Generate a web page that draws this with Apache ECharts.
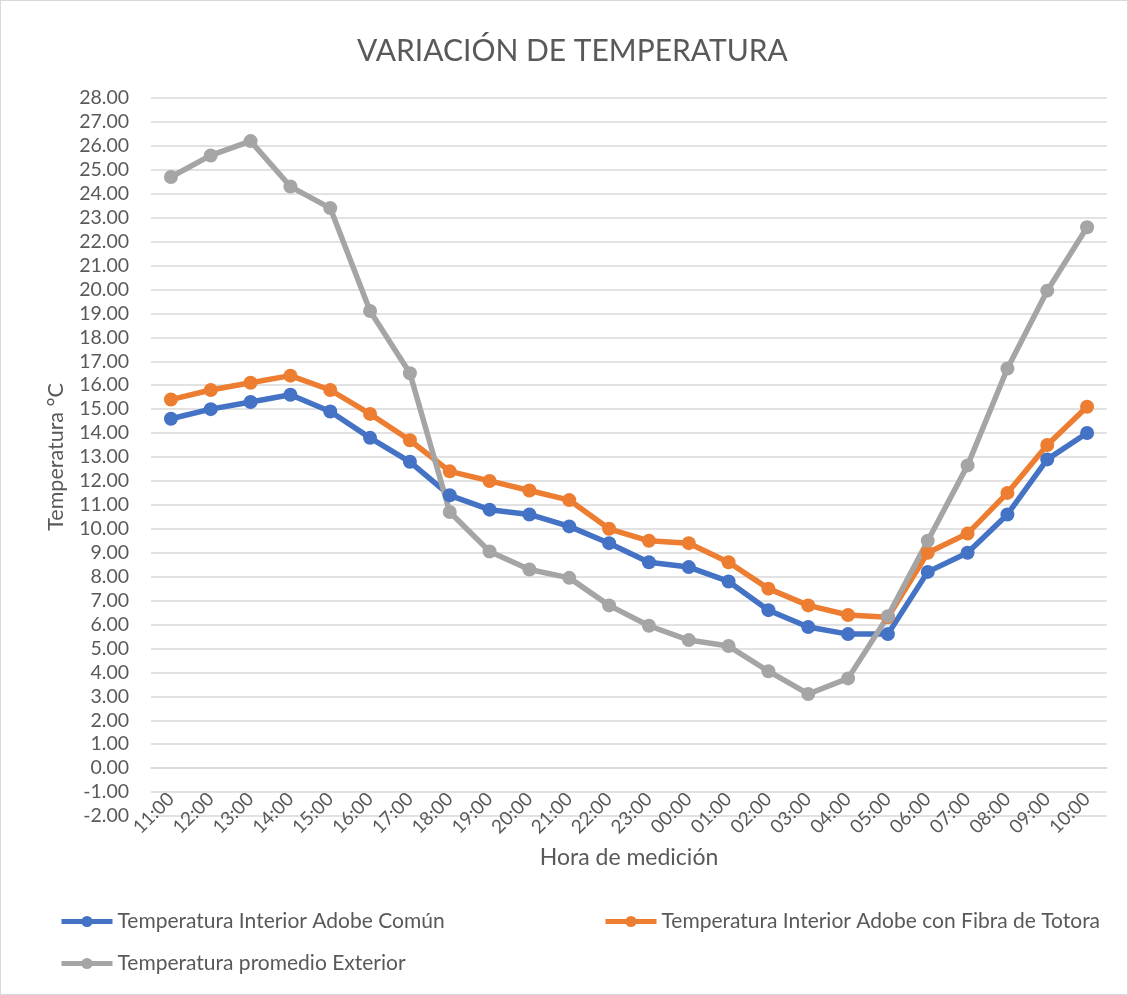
<!DOCTYPE html>
<html><head><meta charset="utf-8">
<script src="https://cdn.jsdelivr.net/npm/echarts@6/dist/echarts.min.js"></script>
<style>html,body{margin:0;padding:0;background:#fff}#c{width:1128px;height:995px;box-sizing:border-box;border:1px solid #d9d9d9}</style>
</head><body><div id="c"></div>
<script>
const categories = ['11:00','12:00','13:00','14:00','15:00','16:00','17:00','18:00','19:00','20:00','21:00','22:00','23:00','00:00','01:00','02:00','03:00','04:00','05:00','06:00','07:00','08:00','09:00','10:00'];
const adobeComun = [14.6,15.0,15.3,15.6,14.9,13.8,12.8,11.4,10.8,10.6,10.1,9.4,8.6,8.4,7.8,6.6,5.9,5.6,5.6,8.2,9.0,10.6,12.9,14.0];
const adobeTotora = [15.4,15.8,16.1,16.4,15.8,14.8,13.7,12.4,12.0,11.6,11.2,10.0,9.5,9.4,8.6,7.5,6.8,6.4,6.3,9.0,9.8,11.5,13.5,15.1];
const exterior = [24.7,25.6,26.2,24.3,23.4,19.1,16.5,10.7,9.05,8.3,7.95,6.8,5.95,5.35,5.1,4.05,3.1,3.75,6.35,9.5,12.65,16.7,19.95,22.6];
const seriesNames = ['Temperatura Interior Adobe Común','Temperatura Interior Adobe con Fibra de Totora','Temperatura promedio Exterior'];
const colors = ['#4472c4','#ed7d31','#a5a5a5'];
const FONT = 'Lato, "Open Sans", sans-serif';
const chart = echarts.init(document.getElementById('c'));
function mk(name, data, color){
  return {name, type:'line', data, color, symbol:'circle', symbolSize:14,
    lineStyle:{width:5.5, color}, itemStyle:{color}, z: 2};
}
const legendCommon = {padding:0, itemWidth:51, itemHeight:14, itemGap:0, lineStyle:{width:5}, textStyle:{color:'#595959', fontSize:21, fontFamily:FONT}};
chart.setOption({
  animation:false,
  title:{text:'VARIACIÓN DE TEMPERATURA', left:351, top:30, textStyle:{color:'#595959', fontSize:30, fontWeight:'normal', fontFamily:FONT}},
  grid:{left:150, right:20, top:97, bottom:178},
  legend:[
    Object.assign({data:[seriesNames[0]], left:58, top:910}, legendCommon),
    Object.assign({data:[seriesNames[1]], left:602, top:910}, legendCommon),
    Object.assign({data:[seriesNames[2]], left:58, top:952}, legendCommon)
  ],
  xAxis:{type:'category', data:categories, boundaryGap:true,
    name:'Hora de medición', nameLocation:'middle', nameGap:30,
    nameTextStyle:{color:'#595959', fontSize:23, fontFamily:FONT},
    axisLine:{show:true, lineStyle:{color:'#d9d9d9', width:1.5}}, axisTick:{show:false},
    axisLabel:{rotate:45, color:'#595959', fontSize:19, fontFamily:FONT, interval:0, margin:-20}},
  yAxis:{type:'value', min:-2, max:28, interval:1,
    name:'Temperatura °C', nameLocation:'middle', nameGap:84, nameRotate:90,
    nameTextStyle:{color:'#595959', fontSize:21.5, fontFamily:FONT},
    axisLine:{show:false}, axisTick:{show:false},
    axisLabel:{color:'#595959', fontSize:19.5, fontFamily:FONT, margin:22, formatter:v=>v.toFixed(2)},
    splitLine:{lineStyle:{color:'#d9d9d9', width:1.5}}},
  series:[mk(seriesNames[0], adobeComun, colors[0]), mk(seriesNames[1], adobeTotora, colors[1]), mk(seriesNames[2], exterior, colors[2])]
});
</script></body></html>
